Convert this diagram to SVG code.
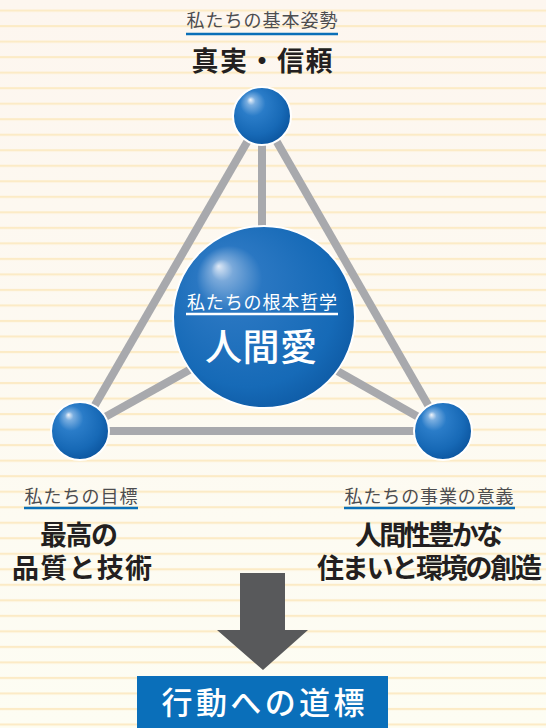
<svg xmlns="http://www.w3.org/2000/svg" width="546" height="728" viewBox="0 0 546 728">
<defs>
<linearGradient id="bg" x1="0" y1="0" x2="0" y2="1">
<stop offset="0" stop-color="#fdf6ef"/>
<stop offset="1" stop-color="#fdfdf3"/>
</linearGradient>
<pattern id="lines" patternUnits="userSpaceOnUse" x="0" y="-5" width="546" height="15.52">
<rect x="0" y="14.5" width="546" height="2.2" fill="#fcebc6"/>
<rect x="0" y="-1.02" width="546" height="2.2" fill="#fcebc6"/>
</pattern>
<radialGradient id="ball" cx="0.42" cy="0.4" r="0.62" fx="0.3" fy="0.22">
<stop offset="0" stop-color="#f2f6fb"/>
<stop offset="0.12" stop-color="#7aaee0"/>
<stop offset="0.35" stop-color="#2a7cc8"/>
<stop offset="0.75" stop-color="#1769b6"/>
<stop offset="1" stop-color="#0c56a0"/>
</radialGradient>
<radialGradient id="bigball" cx="0.45" cy="0.45" r="0.6" fx="0.25" fy="0.22">
<stop offset="0" stop-color="#dfe9f6"/>
<stop offset="0.1" stop-color="#7aa9da"/>
<stop offset="0.3" stop-color="#2a77c2"/>
<stop offset="0.8" stop-color="#166ab7"/>
<stop offset="1" stop-color="#0e5aa4"/>
</radialGradient>
<style>
.conn{stroke:#a8a9ad;stroke-width:8;stroke-linecap:butt;fill:none}
.ball{fill:url(#ball);stroke:#ffffff;stroke-width:2}
.sub{font-family:"Noto Sans CJK JP","Noto Sans",sans-serif;font-size:18px;fill:#4d4d4f;text-anchor:middle}
.main{font-family:"Noto Sans CJK JP","Noto Sans",sans-serif;font-size:27px;font-weight:700;fill:#231f20;text-anchor:middle}
.uline{stroke:#0a6fb8;stroke-width:2.6}
.wt{font-family:"Noto Sans CJK JP","Noto Sans",sans-serif;fill:#ffffff;text-anchor:middle}
</style>
</defs>
<rect width="546" height="728" fill="url(#bg)"/>
<rect width="546" height="728" fill="url(#lines)"/>

<g id="connectors">
<line class="conn" x1="262" y1="116" x2="80" y2="431"/>
<line class="conn" x1="262" y1="116" x2="443" y2="431"/>
<line class="conn" x1="80" y1="431" x2="443" y2="431"/>
<line class="conn" x1="262" y1="140" x2="262" y2="240"/>
<line class="conn" x1="80" y1="431" x2="200" y2="364"/>
<line class="conn" x1="443" y1="431" x2="325" y2="364"/>
</g>

<g id="node-top">
<circle class="ball" cx="262" cy="116" r="29"/>
<text class="sub" x="262" y="27" textLength="151">私たちの基本姿勢</text>
<line class="uline" x1="186" y1="34" x2="338" y2="34"/>
<text class="main" x="262" y="71" font-size="28" textLength="141">真実・信頼</text>
</g>

<g id="node-center">
<circle cx="264" cy="317" r="91" fill="url(#bigball)" stroke="#ffffff" stroke-width="2"/>
<text class="wt" x="262" y="309" font-size="18" textLength="150">私たちの根本哲学</text>
<line x1="186" y1="314" x2="338" y2="314" stroke="#ffffff" stroke-width="2.4"/>
<text class="wt" x="261" y="361" font-size="37" font-weight="500" textLength="112">人間愛</text>
</g>

<g id="node-left">
<circle class="ball" cx="80" cy="431" r="29"/>
<text class="sub" x="81" y="503" textLength="113">私たちの目標</text>
<line class="uline" x1="24" y1="508" x2="138" y2="508"/>
<text class="main" x="79" y="545" textLength="78">最高の</text>
<text class="main" x="82" y="578" textLength="140">品質と技術</text>
</g>

<g id="node-right">
<circle class="ball" cx="443" cy="431" r="29"/>
<text class="sub" x="429" y="503" textLength="169">私たちの事業の意義</text>
<line class="uline" x1="344" y1="508" x2="515" y2="508"/>
<text class="main" x="429" y="545" textLength="148">人間性豊かな</text>
<text class="main" x="429.5" y="578" textLength="225">住まいと環境の創造</text>
</g>

<g id="arrow">
<polygon points="240,573 285,573 285,630 308,630 263,670 217,630 240,630" fill="#58595b"/>
</g>

<g id="node-bottom">
<rect x="137" y="676" width="251" height="52" fill="#0a6fba"/>
<text class="wt" x="263" y="714" font-size="31" font-weight="500" textLength="203">行動への道標</text>
</g>
</svg>
